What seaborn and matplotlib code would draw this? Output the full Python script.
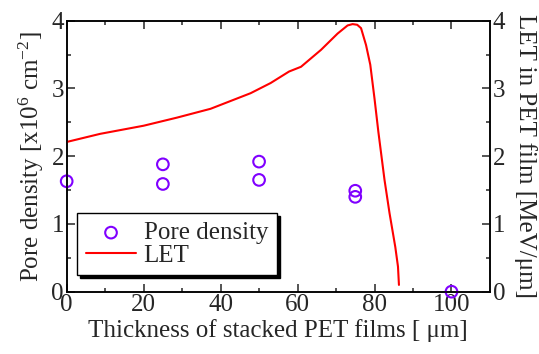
import matplotlib
matplotlib.use("Agg")
import matplotlib.pyplot as plt
import seaborn as sns
import pandas as pd

# Pore density data
pore_x = [0, 25, 25, 50, 50, 75, 75, 100]
pore_y = [1.63, 1.88, 1.59, 1.92, 1.65, 1.49, 1.40, 0.0]

# LET curve
let_x = [0, 8.7, 20, 28.7, 37.4, 47.8, 53, 57.8, 60.9, 66.1, 70.4, 73, 74.3,
         75.5, 76.5, 77.8, 78.9, 80, 81, 82.6, 83.9, 85.4, 86.1, 86.35]
let_y = [2.21, 2.33, 2.45, 2.57, 2.70, 2.93, 3.08, 3.25, 3.32, 3.57, 3.81, 3.93, 3.95,
         3.94, 3.89, 3.64, 3.35, 2.85, 2.36, 1.65, 1.16, 0.66, 0.37, 0.10]

x_ticks = [0, 20, 40, 60, 80, 100]
y_ticks = [0, 1, 2, 3, 4]

sns.set_style("ticks")
plt.rcParams['font.family'] = ['Liberation Serif', 'DejaVu Serif']
plt.rcParams['mathtext.fontset'] = 'custom'
plt.rcParams['mathtext.rm'] = 'Liberation Serif'
plt.rcParams['mathtext.it'] = 'Liberation Serif:italic'

FS = 18

fig = plt.figure(figsize=(5.39, 3.54), dpi=100)
ax = fig.add_axes([0.1237, 0.176, 0.909 - 0.1237, 0.9415 - 0.176])
ax2 = ax.twinx()

pore_df = pd.DataFrame({"x": pore_x, "y": pore_y})
let_df = pd.DataFrame({"x": let_x, "y": let_y})

sns.scatterplot(data=pore_df, x="x", y="y", ax=ax, marker="o", s=70,
                facecolors="none", edgecolor="#8000FF", linewidth=1.5,
                label="Pore density", zorder=5, clip_on=False)
sns.lineplot(data=let_df, x="x", y="y", ax=ax2, color="#FF0000", linewidth=1.5,
             sort=False, estimator=None, label="LET")

for a in (ax, ax2):
    a.set_xlim(0, 110)
    a.set_ylim(0, 4)
    for s in a.spines.values():
        s.set_linewidth(1.1)
        s.set_color("black")

ax.set_xticks(x_ticks)
ax.set_xticks(range(10, 110, 20), minor=True)
ax.set_yticks(y_ticks)
ax.set_yticks([0.5, 1.5, 2.5, 3.5], minor=True)
ax2.set_yticks(y_ticks)
ax2.set_yticks([0.5, 1.5, 2.5, 3.5], minor=True)

ax.tick_params(which="both", direction="in", top=True, right=False, labelsize=FS, width=1.1)
ax.tick_params(which="major", length=6, pad=2)
ax.tick_params(which="minor", length=3)
ax2.tick_params(which="both", direction="in", right=True, labelsize=FS, width=1.1)
ax2.tick_params(which="major", length=6, pad=2)
ax2.tick_params(which="minor", length=3)

ax.set_xlabel("Thickness of stacked PET films [ μm]", fontsize=FS, labelpad=2)
ax.set_ylabel(r"Pore density [x10$^{6}$ cm$^{-2}$]", fontsize=FS, labelpad=4)
ax2.set_ylabel("LET in PET film [MeV/μm]", fontsize=FS, rotation=270, labelpad=23)

h1, l1 = ax.get_legend_handles_labels()
h2, l2 = ax2.get_legend_handles_labels()
if ax.get_legend():
    ax.get_legend().remove()
if ax2.get_legend():
    ax2.get_legend().remove()
leg = ax2.legend(h1 + h2, l1 + l2, loc="lower left", bbox_to_anchor=(0.025, 0.06),
                 fontsize=FS, frameon=True, fancybox=False,
                 shadow={"color": "black", "alpha": 1.0},
                 handlelength=2.0, handletextpad=0.3, borderpad=0.35,
                 labelspacing=0.0, borderaxespad=0.0)
leg.get_frame().set_edgecolor("black")
leg.get_frame().set_linewidth(1.0)

fig.savefig("out.png", dpi=100)
